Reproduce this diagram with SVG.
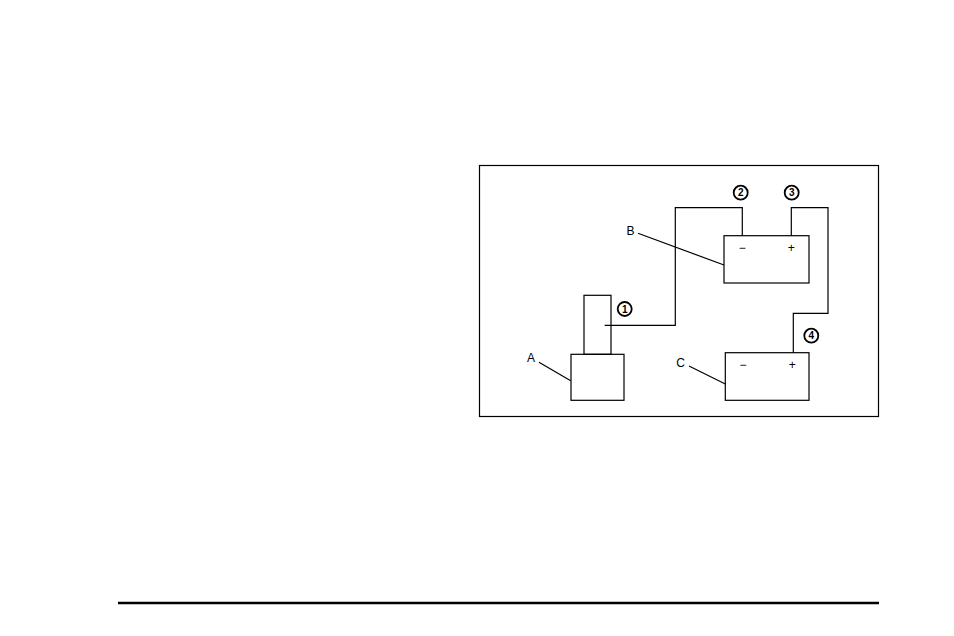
<svg xmlns="http://www.w3.org/2000/svg" width="954" height="636" viewBox="0 0 954 636">
<style>
.s{fill:none;stroke:#000;stroke-width:1.2}
.t{font-family:"Liberation Sans",Arial,sans-serif;font-size:12px;fill:#000;text-anchor:middle}
.n{font-family:"Liberation Sans",Arial,sans-serif;font-size:10px;font-weight:bold;fill:#000;text-anchor:middle}
.c{fill:#fff;stroke:#000;stroke-width:1.8}
</style>
<rect width="954" height="636" fill="#fff"/>
<rect x="479.5" y="165.5" width="399" height="251" class="s"/>
<g id="connectors">
<polyline class="s" points="604.7,325.3 675.3,325.3 675.3,207.7 742.3,207.7 742.3,235.7"/>
<polyline class="s" points="791.3,235.7 791.3,207.7 828,207.7 828,313.3 793.3,313.3 793.3,352.7"/>
<line class="s" x1="638" y1="233.3" x2="724" y2="265"/>
<line class="s" x1="539" y1="362.3" x2="570.7" y2="380.7"/>
<line class="s" x1="689" y1="366" x2="725.3" y2="384"/>
</g>
<g id="A"><rect x="571" y="354.3" width="53" height="46" class="s"/><rect x="584" y="295.3" width="27" height="59" class="s"/><text x="531" y="362" class="t">A</text></g>
<g id="B"><rect x="724" y="235.7" width="85" height="47.3" class="s"/><text x="630.5" y="235" class="t">B</text><text x="742.3" y="251.5" class="t">−</text><text x="791.3" y="251.5" class="t">+</text></g>
<g id="C"><rect x="725.3" y="352.7" width="83.7" height="47.6" class="s"/><text x="680.5" y="366.5" class="t">C</text><text x="743" y="368.5" class="t">−</text><text x="792.3" y="368.5" class="t">+</text></g>
<g id="n1"><circle cx="624.7" cy="309" r="7" class="c"/><text x="624.7" y="312.6" class="n">1</text></g>
<g id="n2"><circle cx="740.7" cy="192.7" r="7" class="c"/><text x="740.7" y="196.3" class="n">2</text></g>
<g id="n3"><circle cx="791.7" cy="192.7" r="7" class="c"/><text x="791.7" y="196.3" class="n">3</text></g>
<g id="n4"><circle cx="811.3" cy="335.7" r="7" class="c"/><text x="811.3" y="339.3" class="n">4</text></g>
<line x1="118" y1="603" x2="879" y2="603" stroke="#000" stroke-width="2.5"/>
</svg>
